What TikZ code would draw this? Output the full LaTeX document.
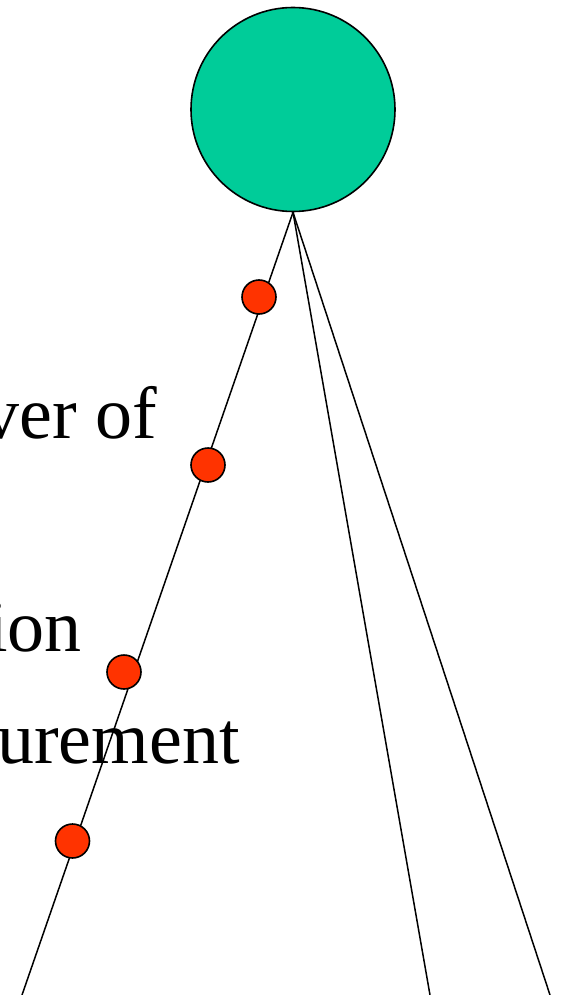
\documentclass[tikz,border=0pt]{standalone}
\usepackage{fontspec}
\setmainfont{Liberation Serif}
\definecolor{hubfill}{HTML}{00CC99}
\definecolor{dotfill}{HTML}{FF3300}
\tikzset{
  hubnode/.style={circle, draw=black, line width=1.6pt, fill=hubfill, minimum size=204pt, inner sep=0pt},
  dotnode/.style={circle, draw=black, line width=1.6pt, fill=dotfill, minimum size=34pt, inner sep=0pt},
  rayline/.style={draw=black, line width=1.5pt},
  bigtext/.style={anchor=base east, inner sep=0pt, font=\fontsize{74}{80}\selectfont},
}
\begin{document}
\begin{tikzpicture}[x=1pt, y=-1pt, line cap=round, line join=round]
  \clip (0,0) rectangle (564,995);

  % text cut off at the left edge
  \node[bigtext] (line-power) at (157,438) {ver of};
  \node[bigtext] (line-ion) at (82,651) {ion};
  \node[bigtext] (line-meas) at (240,763) {urement};

  \node[hubnode] (hub) at (293,109.5) {};

  \coordinate (end-a) at (22,995);
  \coordinate (end-b) at (430,995);
  \coordinate (end-c) at (550,995);

  \draw[rayline] (hub.south) -- (end-a);
  \draw[rayline] (hub.south) -- (end-b);
  \draw[rayline] (hub.south) -- (end-c);

  \node[dotnode] (dot1) at (259,297) {};
  \node[dotnode] (dot2) at (208,465) {};
  \node[dotnode] (dot3) at (124,672) {};
  \node[dotnode] (dot4) at (72.5,841) {};
\end{tikzpicture}
\end{document}
